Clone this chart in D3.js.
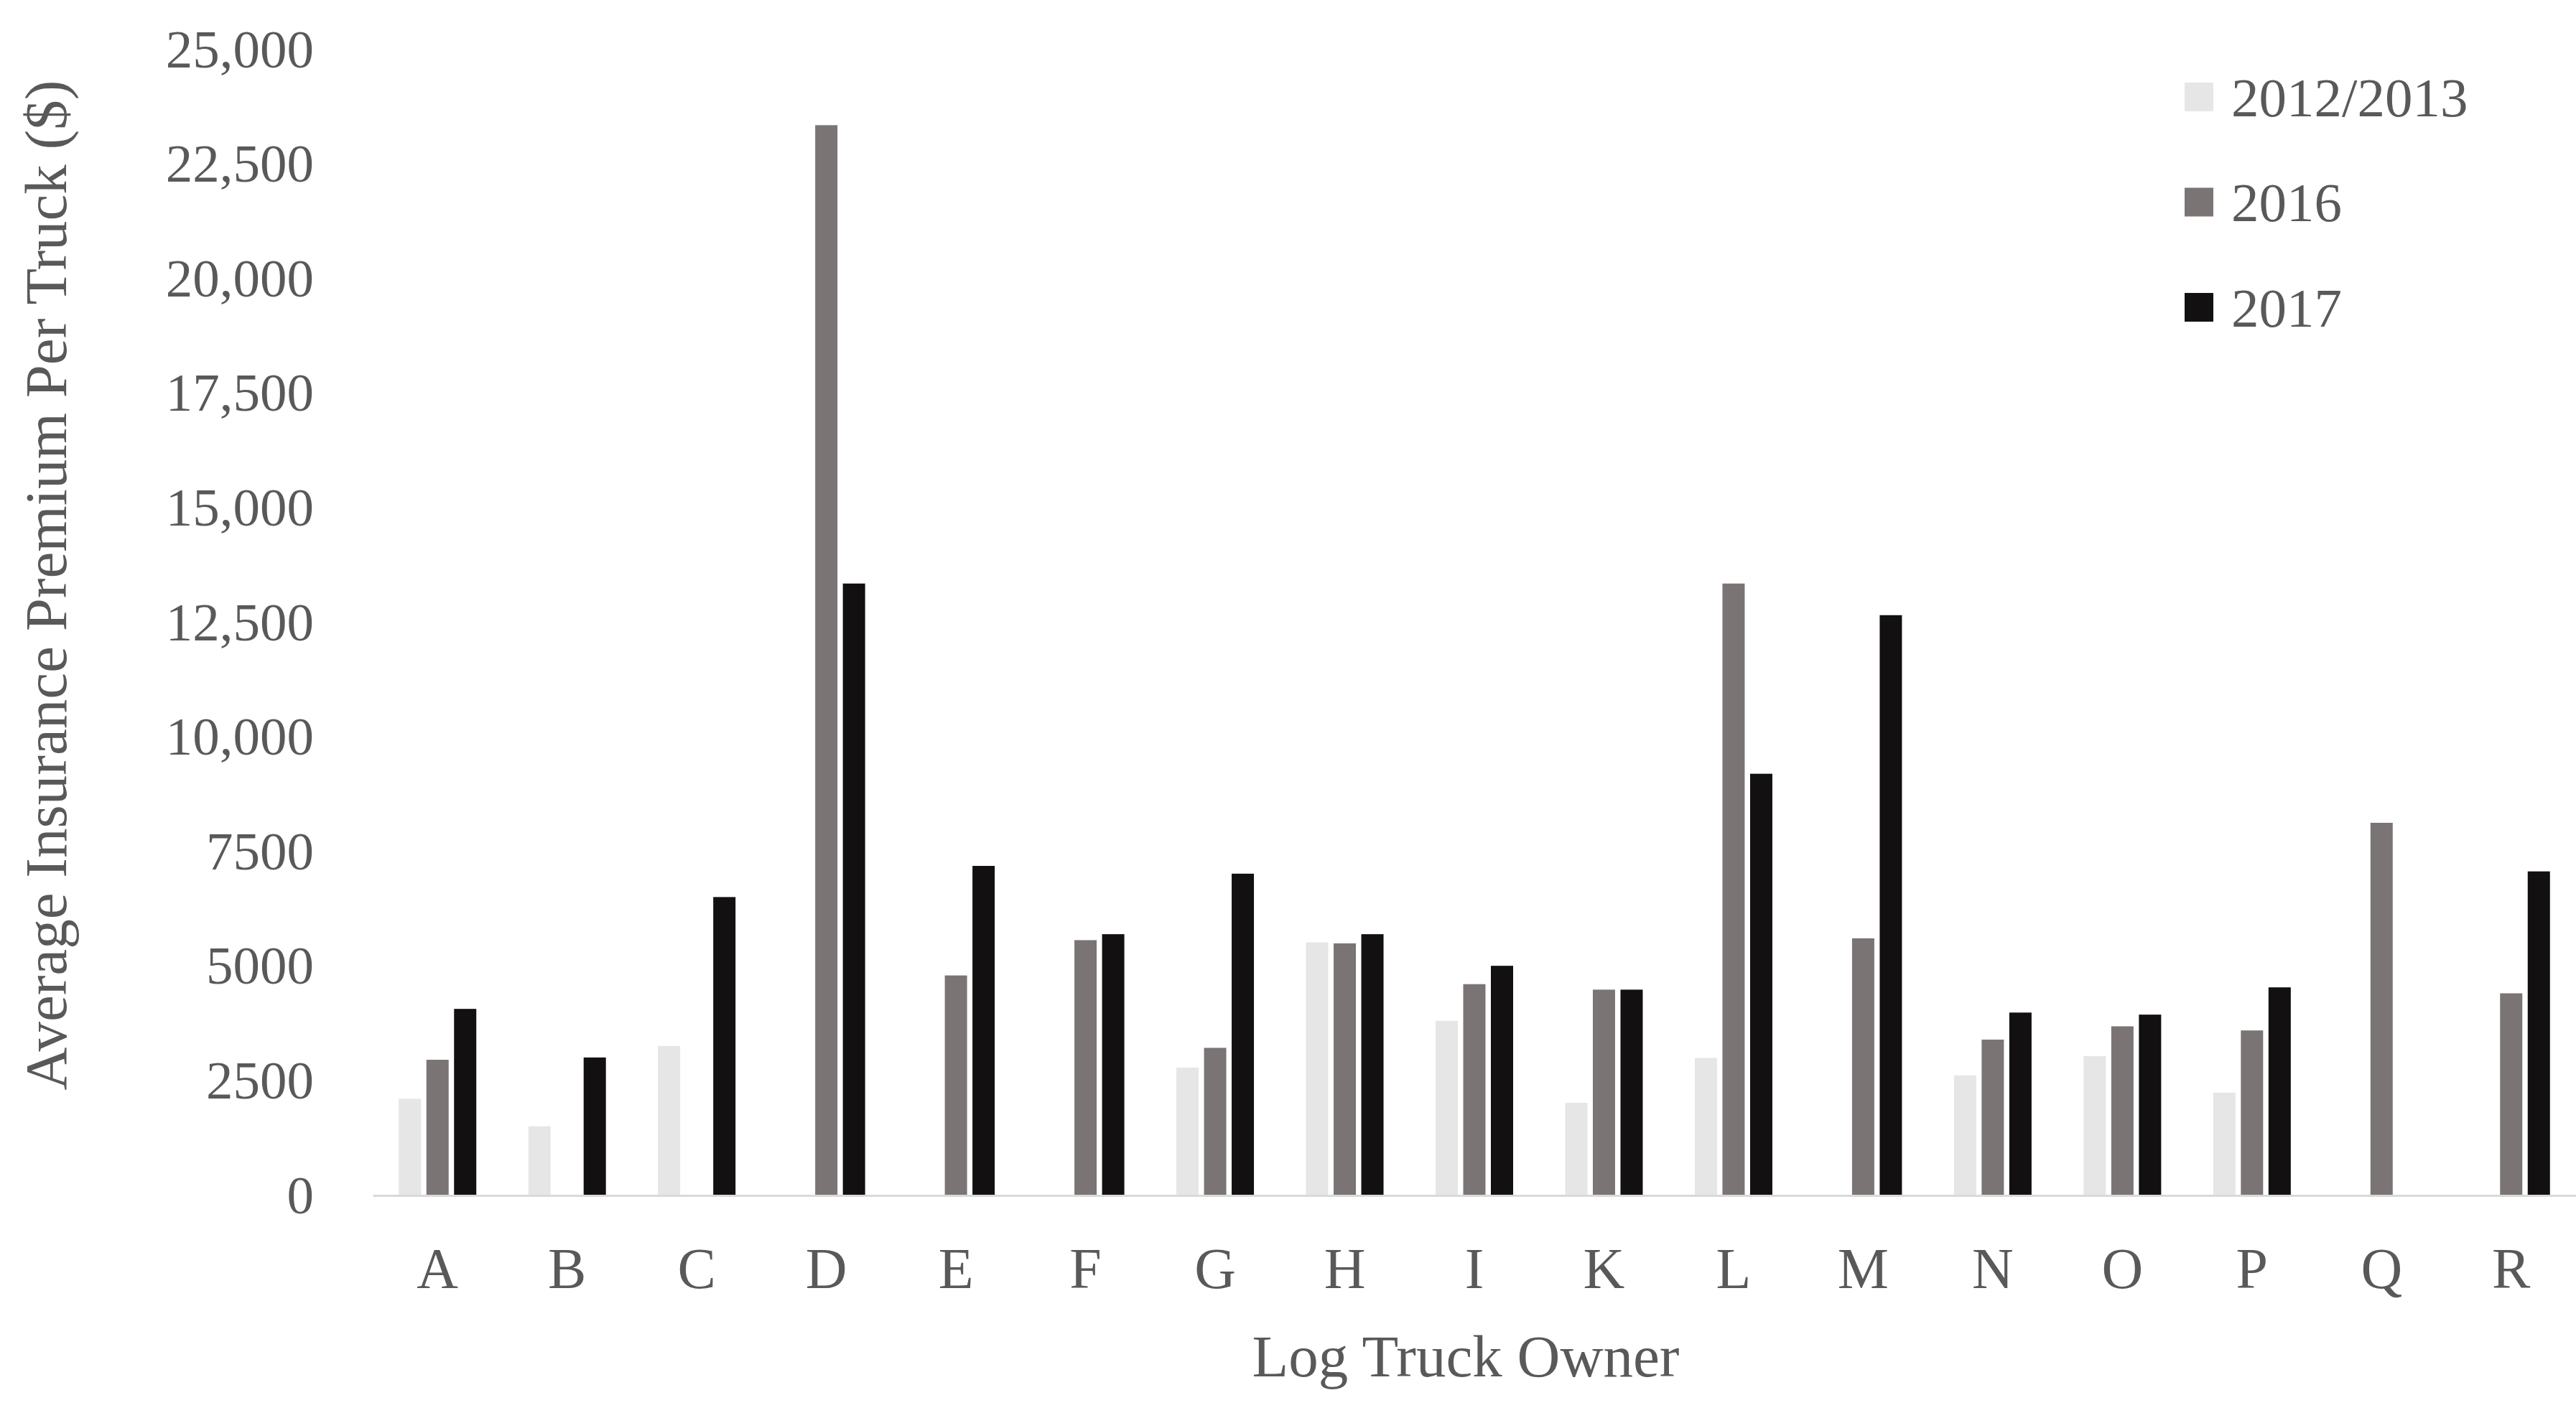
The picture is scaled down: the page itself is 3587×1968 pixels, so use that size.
<!DOCTYPE html>
<html>
<head>
<meta charset="utf-8">
<script src="https://cdn.jsdelivr.net/npm/d3@7"></script>
<style>
  body { margin: 0; background: #fff; }
  text { font-family: "Liberation Serif", "DejaVu Serif", serif; fill: #595959; }
</style>
</head>
<body>
<div id="chart"></div>
<script>
// categories (log truck owners)
var owners = ["A","B","C","D","E","F","G","H","I","K","L","M","N","O","P","Q","R"];
var seriesNames = ["2012/2013", "2016", "2017"];
// average premium per truck ($), null = no bar
var v2012 = [2110, 1510, 3260, null, null, null, 2790, 5520, 3810, 2020, 3000, null, 2620, 3040, 2245, null, null];
var v2016 = [2960, null, null, 23350, 4800, 5570, 3220, 5500, 4610, 4490, 13350, 5610, 3400, 3690, 3600, 8130, 4410];
var v2017 = [4070, 3010, 6510, 13350, 7190, 5700, 7020, 5700, 5010, 4490, 9200, 12660, 3990, 3945, 4540, null, 7070];
var yTicks = [0, 2500, 5000, 7500, 10000, 12500, 15000, 17500, 20000, 22500, 25000];
var yTickLabels = ["0", "2500", "5000", "7500", "10,000", "12,500", "15,000", "17,500", "20,000", "22,500", "25,000"];
var colors = ["#e6e6e6", "#7a7574", "#121011"];

var W = 3587, H = 1968;
var plot = {left: 519, right: 3587, top: 69, bottom: 1665};

var svg = d3.select("#chart").append("svg")
    .attr("width", W)
    .attr("height", H);

// ---------------------------------------------------------------
// scales
var x0 = d3.scaleBand()
    .domain(owners)
    .range([plot.left, plot.right])
    .padding(0);

var groupW = 108;
var x1 = d3.scaleBand()
    .domain(seriesNames)
    .range([(x0.bandwidth() - groupW) / 2, (x0.bandwidth() + groupW) / 2])
    .paddingInner(0.195)
    .paddingOuter(0);

var y = d3.scaleLinear()
    .domain([0, 25000])
    .range([plot.bottom, plot.top]);

var color = d3.scaleOrdinal().domain(seriesNames).range(colors);

// flat list of bars
var values = [v2012, v2016, v2017];
var bars = [];
owners.forEach(function(o, i) {
  seriesNames.forEach(function(s, j) {
    if (values[j][i] != null) bars.push({owner: o, series: s, value: values[j][i]});
  });
});

// ---------------------------------------------------------------
// y axis (labels only)
var yAxis = svg.append("g")
    .attr("transform", "translate(" + plot.left + ",0)")
    .call(d3.axisLeft(y)
      .tickValues(yTicks)
      .tickSize(0)
      .tickPadding(82)
      .tickFormat(function(d, i) { return yTickLabels[i]; }));
yAxis.select(".domain").remove();
yAxis.selectAll("text")
    .style("font-family", "Liberation Serif")
    .style("font-size", "75px")
    .attr("fill", "#595959");

// bars
svg.selectAll(".bar")
    .data(bars)
    .enter().append("rect")
      .attr("class", "bar")
      .attr("x", function(d) { return x0(d.owner) + x1(d.series); })
      .attr("width", x1.bandwidth())
      .attr("y", function(d) { return y(d.value); })
      .attr("height", function(d) { return y(0) - y(d.value); })
      .style("fill", function(d) { return color(d.series); });

// x axis
var xAxis = svg.append("g")
    .attr("transform", "translate(0," + plot.bottom + ")")
    .call(d3.axisBottom(x0).tickSize(0).tickPadding(72));
xAxis.select(".domain")
    .attr("stroke", "#d9d9d9")
    .attr("stroke-width", 3);
xAxis.selectAll("text")
    .style("font-family", "Liberation Serif")
    .style("font-size", "80px")
    .attr("fill", "#595959");

// axis titles
svg.append("text")
    .attr("x", (plot.left + plot.right) / 2 - 12)
    .attr("y", 1917)
    .attr("text-anchor", "middle")
    .style("font-size", "83px")
    .text("Log Truck Owner");

svg.append("text")
    .attr("transform", "translate(92,815) rotate(-90)")
    .attr("text-anchor", "middle")
    .style("font-size", "83px")
    .text("Average Insurance Premium Per Truck ($)");

// legend
var legend = svg.append("g").attr("transform", "translate(3042,135)");
var item = legend.selectAll(".item")
    .data(seriesNames)
    .enter().append("g")
      .attr("class", "item")
      .attr("transform", function(d, i) { return "translate(0," + i * 146.5 + ")"; });
item.append("rect")
    .attr("x", 0).attr("y", -20)
    .attr("width", 40).attr("height", 40)
    .style("fill", function(d) { return color(d); });
item.append("text")
    .attr("x", 65)
    .attr("dy", "0.35em")
    .style("font-size", "77px")
    .text(function(d) { return d; });
</script>
</body>
</html>
